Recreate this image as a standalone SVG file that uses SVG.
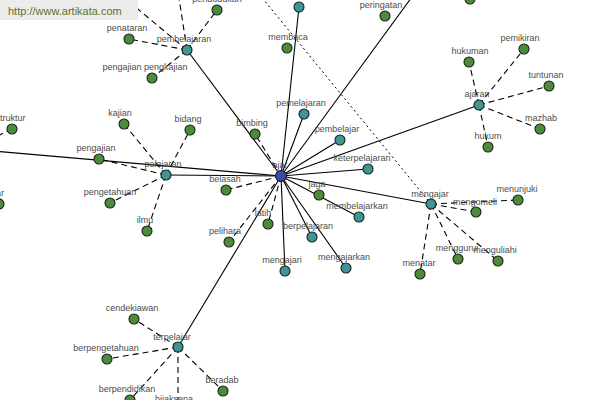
<svg xmlns="http://www.w3.org/2000/svg" width="600" height="400" viewBox="0 0 600 400">
<style>
.e{stroke:#000;stroke-width:1.1;fill:none}
.d{stroke:#000;stroke-width:1.1;stroke-dasharray:6,4;fill:none}
.o{stroke:#000;stroke-width:1;stroke-dasharray:2,3;fill:none}
.g{fill:#4e8a3e;stroke:#16220f;stroke-width:1.1}
.t{fill:#3f9494;stroke:#12201f;stroke-width:1.1}
.c{fill:#3b4aa2;stroke:#141a40;stroke-width:1.1}
text{font-family:"Liberation Sans",Arial,sans-serif;font-size:9px;fill:#4d4d4d;text-anchor:middle}
.wm{font-size:11px;fill:#5f702c;text-anchor:start}
</style>
<rect width="600" height="400" fill="#fff"/>
<g id="connectors">
<line class="e" x1="281" y1="176" x2="299" y2="7"/>
<line class="e" x1="281" y1="176" x2="417" y2="-10"/>
<line class="e" x1="281" y1="176" x2="-10" y2="150.8"/>
<line class="e" x1="281" y1="176" x2="187" y2="50"/>
<line class="e" x1="281" y1="176" x2="304" y2="114"/>
<line class="e" x1="281" y1="176" x2="340" y2="140"/>
<line class="e" x1="281" y1="176" x2="368" y2="169"/>
<line class="e" x1="281" y1="176" x2="479" y2="105"/>
<line class="e" x1="281" y1="176" x2="431" y2="204"/>
<line class="e" x1="281" y1="176" x2="359" y2="217"/>
<line class="e" x1="281" y1="176" x2="346" y2="268"/>
<line class="e" x1="281" y1="176" x2="312" y2="237"/>
<line class="e" x1="281" y1="176" x2="285" y2="271"/>
<line class="e" x1="281" y1="176" x2="178" y2="347"/>
<line class="e" x1="281" y1="176" x2="166" y2="175"/>
<line class="d" x1="281" y1="176" x2="255" y2="134"/>
<line class="d" x1="281" y1="176" x2="226" y2="190"/>
<line class="d" x1="281" y1="176" x2="268" y2="224"/>
<line class="d" x1="281" y1="176" x2="229" y2="242"/>
<line class="d" x1="187" y1="50" x2="129" y2="39"/>
<line class="d" x1="187" y1="50" x2="152" y2="78"/>
<line class="d" x1="187" y1="50" x2="217" y2="10"/>
<line class="d" x1="187" y1="50" x2="177" y2="-15"/>
<line class="d" x1="187" y1="50" x2="115" y2="-10"/>
<line class="d" x1="166" y1="175" x2="124" y2="124"/>
<line class="d" x1="166" y1="175" x2="190" y2="130"/>
<line class="d" x1="166" y1="175" x2="99" y2="159"/>
<line class="d" x1="166" y1="175" x2="110" y2="203"/>
<line class="d" x1="166" y1="175" x2="147" y2="231"/>
<line class="d" x1="12" y1="129" x2="-15" y2="142"/>
<line class="d" x1="479" y1="105" x2="469" y2="62"/>
<line class="d" x1="479" y1="105" x2="524" y2="49"/>
<line class="d" x1="479" y1="105" x2="549" y2="86"/>
<line class="d" x1="479" y1="105" x2="540" y2="129"/>
<line class="d" x1="479" y1="105" x2="488" y2="147"/>
<line class="d" x1="431" y1="204" x2="476" y2="212"/>
<line class="d" x1="431" y1="204" x2="518" y2="200"/>
<line class="d" x1="431" y1="204" x2="458" y2="259"/>
<line class="d" x1="431" y1="204" x2="498" y2="261"/>
<line class="d" x1="431" y1="204" x2="420" y2="274"/>
<line class="d" x1="178" y1="347" x2="134" y2="319"/>
<line class="d" x1="178" y1="347" x2="107" y2="359"/>
<line class="d" x1="178" y1="347" x2="130" y2="400"/>
<line class="d" x1="178" y1="347" x2="223" y2="391"/>
<line class="d" x1="178" y1="347" x2="178" y2="415"/>
<line class="o" x1="259" y1="-6" x2="431" y2="204"/>
</g>
<g id="watermark"><rect x="0" y="0" width="138" height="20" fill="#ececec"/><text class="wm" x="8" y="15">http://www.artikata.com</text></g>
<g id="n-top"><circle class="t" cx="299" cy="7" r="5"/></g>
<g id="n-topright"><circle class="g" cx="470" cy="-1" r="5"/></g>
<g id="n-pendudukan"><circle class="g" cx="217" cy="10" r="5"/><text x="217" y="2">pendudukan</text></g>
<g id="n-peringatan"><circle class="g" cx="385" cy="16" r="5"/><text x="381" y="8">peringatan</text></g>
<g id="n-membaca"><circle class="g" cx="287" cy="48" r="5"/><text x="288" y="40">membaca</text></g>
<g id="n-pembelajaran"><circle class="t" cx="187" cy="50" r="5"/><text x="184" y="42">pembelajaran</text></g>
<g id="n-penataran"><circle class="g" cx="129" cy="39" r="5"/><text x="127" y="31">penataran</text></g>
<g id="n-pengajian-pengkajian"><circle class="g" cx="152" cy="78" r="5"/><text x="145" y="70">pengajian pengkajian</text></g>
<g id="n-struktur"><circle class="g" cx="12" cy="129" r="5"/><text x="-4.5" y="121" style="text-anchor:start">struktur</text></g>
<g id="n-kajian"><circle class="g" cx="124" cy="124" r="5"/><text x="120" y="116">kajian</text></g>
<g id="n-bidang"><circle class="g" cx="190" cy="130" r="5"/><text x="188" y="122">bidang</text></g>
<g id="n-bimbing"><circle class="g" cx="255" cy="134" r="5"/><text x="252" y="126">bimbing</text></g>
<g id="n-pengajian"><circle class="g" cx="99" cy="159" r="5"/><text x="96" y="151">pengajian</text></g>
<g id="n-pelajaran"><circle class="t" cx="166" cy="175" r="5"/><text x="163" y="167">pelajaran</text></g>
<g id="n-belasah"><circle class="g" cx="226" cy="190" r="5"/><text x="225" y="182">belasah</text></g>
<g id="n-pengetahuan"><circle class="g" cx="110" cy="203" r="5"/><text x="110" y="195">pengetahuan</text></g>
<g id="n-left"><circle class="g" cx="-1" cy="204" r="5"/><text x="4" y="196" style="text-anchor:end">pengajar</text></g>
<g id="n-ilmu"><circle class="g" cx="147" cy="231" r="5"/><text x="145" y="223">ilmu</text></g>
<g id="n-pelihara"><circle class="g" cx="229" cy="242" r="5"/><text x="225" y="234">pelihara</text></g>
<g id="n-latih"><circle class="g" cx="268" cy="224" r="5"/><text x="263" y="216">latih</text></g>
<g id="n-mengajari"><circle class="t" cx="285" cy="271" r="5"/><text x="282" y="263">mengajari</text></g>
<g id="n-berpelajaran"><circle class="t" cx="312" cy="237" r="5"/><text x="308" y="229">berpelajaran</text></g>
<g id="n-mengajarkan"><circle class="t" cx="346" cy="268" r="5"/><text x="344" y="260">mengajarkan</text></g>
<g id="n-membelajarkan"><circle class="t" cx="359" cy="217" r="5"/><text x="357" y="209">membelajarkan</text></g>
<g id="n-jaga"><circle class="g" cx="319" cy="195" r="5"/><text x="317" y="187">jaga</text></g>
<g id="n-keterpelajaran"><circle class="t" cx="368" cy="169" r="5"/><text x="362" y="161">keterpelajaran</text></g>
<g id="n-pembelajar"><circle class="t" cx="340" cy="140" r="5"/><text x="337" y="132">pembelajar</text></g>
<g id="n-pemelajaran"><circle class="t" cx="304" cy="114" r="5"/><text x="301" y="106">pemelajaran</text></g>
<g id="n-mengajar"><circle class="t" cx="431" cy="204" r="5"/><text x="430" y="197">mengajar</text></g>
<g id="n-mengomeli"><circle class="g" cx="476" cy="212" r="5"/><text x="475" y="205">mengomeli</text></g>
<g id="n-menunjuki"><circle class="g" cx="518" cy="200" r="5"/><text x="517" y="192">menunjuki</text></g>
<g id="n-menggurui"><circle class="g" cx="458" cy="259" r="5"/><text x="457" y="251">menggurui</text></g>
<g id="n-menguliahi"><circle class="g" cx="498" cy="261" r="5"/><text x="495" y="253">menguliahi</text></g>
<g id="n-menatar"><circle class="g" cx="420" cy="274" r="5"/><text x="419" y="266">menatar</text></g>
<g id="n-ajaran"><circle class="t" cx="479" cy="105" r="5"/><text x="477" y="97">ajaran</text></g>
<g id="n-hukuman"><circle class="g" cx="469" cy="62" r="5"/><text x="470" y="54">hukuman</text></g>
<g id="n-pemikiran"><circle class="g" cx="524" cy="49" r="5"/><text x="520" y="41">pemikiran</text></g>
<g id="n-tuntunan"><circle class="g" cx="549" cy="86" r="5"/><text x="546" y="78">tuntunan</text></g>
<g id="n-mazhab"><circle class="g" cx="540" cy="129" r="5"/><text x="541" y="121">mazhab</text></g>
<g id="n-hukum"><circle class="g" cx="488" cy="147" r="5"/><text x="488" y="139">hukum</text></g>
<g id="n-terpelajar"><circle class="t" cx="178" cy="347" r="5"/><text x="172" y="340">terpelajar</text></g>
<g id="n-cendekiawan"><circle class="g" cx="134" cy="319" r="5"/><text x="132" y="311">cendekiawan</text></g>
<g id="n-berpengetahuan"><circle class="g" cx="107" cy="359" r="5"/><text x="106" y="351">berpengetahuan</text></g>
<g id="n-beradab"><circle class="g" cx="223" cy="391" r="5"/><text x="222" y="383">beradab</text></g>
<g id="n-berpendidikan"><circle class="g" cx="130" cy="400" r="5"/><text x="127" y="392">berpendidikan</text></g>
<g id="n-bijaksana"><text x="174" y="402">bijaksana</text></g>
<g id="n-ajar"><circle class="c" cx="281" cy="176" r="5.5"/><text x="280" y="168">ajar</text></g>
</svg>
